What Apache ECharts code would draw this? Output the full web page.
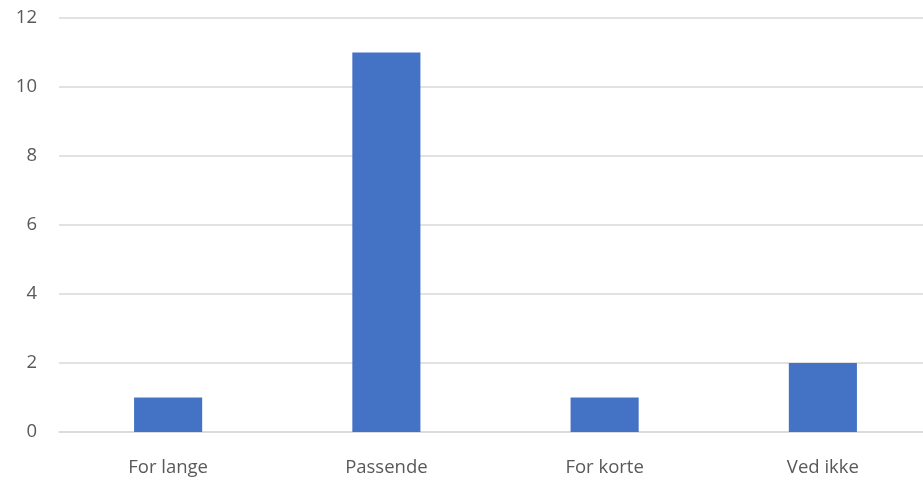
<!DOCTYPE html>
<html><head><meta charset="utf-8">
<script src="https://cdn.jsdelivr.net/npm/echarts@6/dist/echarts.min.js"></script>
<style>html,body{margin:0;padding:0;background:#fff;overflow:hidden;width:923px;height:484px}#c{width:932px;height:484px}</style>
</head><body><div id="c"></div>
<script>
const categories = ["For lange", "Passende", "For korte", "Ved ikke"];
const values = [1, 11, 1, 2];
const yTicks = [0, 2, 4, 6, 8, 10, 12];

const chart = echarts.init(document.getElementById('c'), null, {renderer: 'canvas'});
chart.setOption({
  animation: false,
  grid: {left: 59, right: 0, top: 18, bottom: 52, containLabel: false},
  xAxis: {
    type: 'category', data: categories,
    axisLine: {show: true, lineStyle: {color: '#d9d9d9', width: 1.5}},
    axisTick: {show: false},
    axisLabel: {color: '#595959', fontFamily: 'Open Sans', fontSize: 18.5, margin: 26}
  },
  yAxis: {
    type: 'value', min: yTicks[0], max: yTicks[yTicks.length-1], interval: 2,
    axisLine: {show: false}, axisTick: {show: false},
    splitLine: {lineStyle: {color: '#d9d9d9', width: 1.5}},
    axisLabel: {color: '#595959', fontFamily: 'Open Sans', fontSize: 18.5, margin: 22}
  },
  series: [{
    type: 'bar', data: values, barWidth: '31.2%',
    itemStyle: {color: '#4472c4'}
  }]
});
</script></body></html>
